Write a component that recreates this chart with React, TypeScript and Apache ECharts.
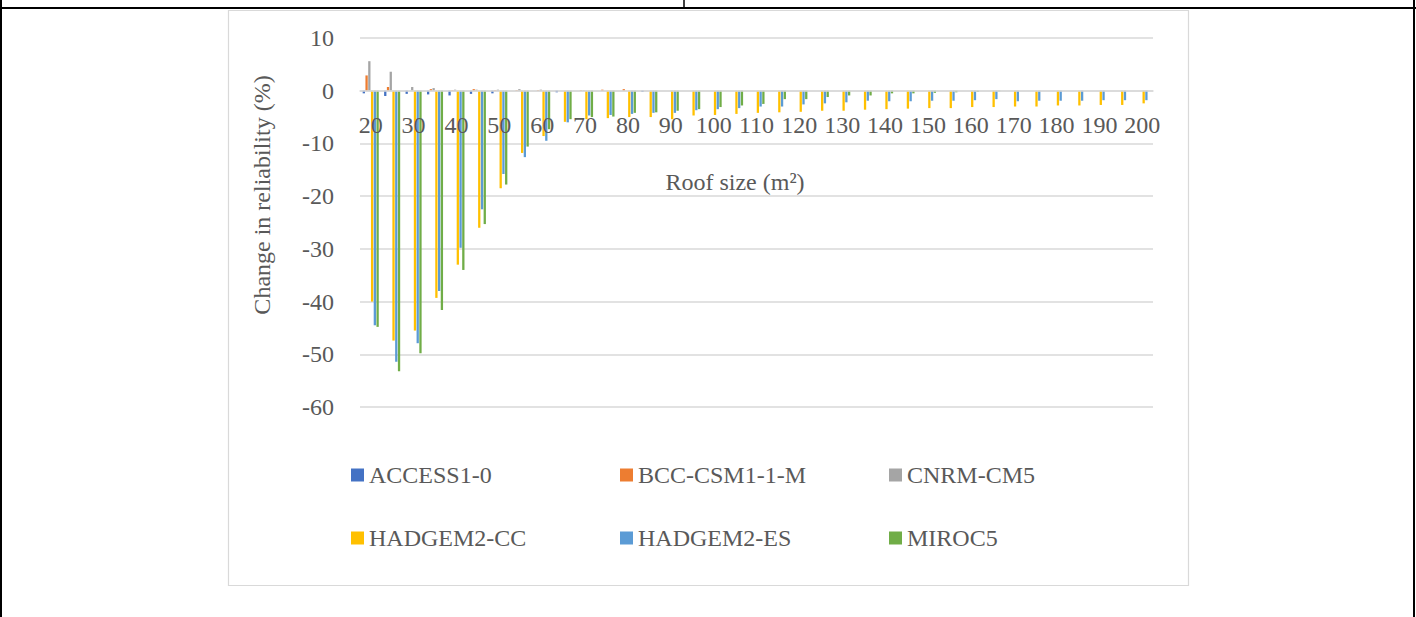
import React, { useEffect, useRef } from "react";
import * as echarts from "echarts";

const categories: string[] = [
  "20", "25", "30", "35", "40", "45", "50", "55", "60", "65", "70", "75", "80",
  "85", "90", "95", "100", "105", "110", "115", "120", "125", "130", "135", "140",
  "145", "150", "155", "160", "165", "170", "175", "180", "185", "190", "195", "200",
];

const seriesNames: string[] = ["ACCESS1-0", "BCC-CSM1-1-M", "CNRM-CM5", "HADGEM2-CC", "HADGEM2-ES", "MIROC5"];
const seriesColors: string[] = ["#4472C4", "#ED7D31", "#A5A5A5", "#FFC000", "#5B9BD5", "#70AD47"];

const access10: number[] = [
  -0.5, -1.0, -0.6, -0.7, -0.9, -0.6, -0.5, 0, 0, -0.3, 0, 0, 0,
  -0.2, 0, 0, 0, 0, 0, 0, 0, 0, 0, 0, 0,
  0, 0, 0, 0, 0, 0, 0, 0, 0, 0, 0, 0,
];
const bccCsm: number[] = [
  2.9, 0.7, 0, 0.3, 0.1, 0.3, 0.1, 0.1, 0.1, 0, 0.1, 0.2, 0.3,
  0, 0, 0, 0, 0, 0, 0, 0, 0, 0, 0, 0,
  0, 0, 0, 0, 0, 0, 0, 0, 0, 0, 0, 0,
];
const cnrmCm5: number[] = [
  5.6, 3.6, 0.7, 0.5, 0.2, 0.2, 0.2, 0.3, 0.2, 0, 0.1, 0, 0,
  0, 0, 0, 0, 0, 0, 0, 0, 0, 0, 0, 0,
  0, 0, 0, 0, 0, 0, 0, 0, 0, 0, 0, 0,
];
const hadgem2Cc: number[] = [
  -40, -47.4, -45.5, -39.3, -33, -26, -18.5, -11.8, -8.6, -5.9, -5.4, -5.2, -5.0,
  -5.0, -5.4, -4.7, -4.6, -4.4, -4.2, -4.1, -4.0, -3.8, -3.8, -3.6, -3.5,
  -3.4, -3.3, -3.3, -3.1, -3.1, -3.0, -3.0, -2.8, -2.8, -2.7, -2.7, -2.4,
];
const hadgem2Es: number[] = [
  -44.5, -51.4, -47.9, -38, -29.8, -22.5, -15.8, -12.6, -9.5, -6.0, -4.7, -4.6, -4.4,
  -4.2, -4.2, -3.7, -3.5, -3.3, -3.0, -3.0, -2.6, -2.4, -2.2, -1.9, -2.0,
  -2.0, -1.9, -1.9, -1.8, -1.6, -2.0, -1.9, -1.9, -1.9, -1.8, -1.8, -1.8,
];
const miroc5: number[] = [
  -44.8, -53.2, -49.8, -41.6, -34, -25.3, -17.8, -10.6, -7.3, -5.4, -5.0, -4.9, -4.2,
  -4.1, -3.8, -3.5, -3.1, -2.8, -2.5, -1.6, -1.6, -1.2, -0.9, -0.9, -0.5,
  -0.5, -0.4, -0.3, -0.2, -0.1, 0, 0, 0, 0, 0, 0, 0,
];

const allSeries: number[][] = [access10, bccCsm, cnrmCm5, hadgem2Cc, hadgem2Es, miroc5];

const yTicks = { min: -60, max: 10, interval: 10 };
const xTitle = "Roof size (m²)";
const yTitle = "Change in reliability (%)";

const FONT = "'Liberation Serif', 'Times New Roman', serif";
const TEXT = "#595959";
const GRID = "#d9d9d9";

const GRID_TOP = 38;
const GRID_BOTTOM = 210;
const PLOT_H = 617 - GRID_TOP - GRID_BOTTOM;

const legendPos: [number, number][] = [
  [351, 463], [620, 463], [889, 463],
  [351, 526], [620, 526], [889, 526],
];

export default function App() {
  const ref = useRef<HTMLDivElement>(null);

  useEffect(() => {
    if (!ref.current) return;
    const chart = echarts.init(ref.current, undefined, { renderer: "svg" });

    // distance from the bottom of the plot up to the zero line, via the value range
    const zeroOffset = (PLOT_H * (0 - yTicks.min)) / (yTicks.max - yTicks.min);

    const option: any = {
      animation: false,
      backgroundColor: "#ffffff",
      grid: { left: 360, right: 263, top: GRID_TOP, bottom: GRID_BOTTOM, containLabel: false },
      xAxis: {
        type: "category",
        data: categories,
        position: "bottom",
        offset: -zeroOffset,
        axisLine: { onZero: false, lineStyle: { color: GRID, width: 1.5 } },
        axisTick: { show: false },
        axisLabel: {
          interval: 1,
          fontSize: 24,
          color: TEXT,
          fontFamily: FONT,
          margin: 22,
        },
        splitLine: { show: false },
        z: 3,
      },
      yAxis: {
        type: "value",
        min: yTicks.min,
        max: yTicks.max,
        interval: yTicks.interval,
        axisLine: { show: false },
        axisTick: { show: false },
        axisLabel: { fontSize: 24, color: TEXT, fontFamily: FONT, margin: 26 },
        splitLine: { lineStyle: { color: GRID, width: 1.5 } },
      },
      legend: seriesNames.map((n, i) => ({
        data: [n],
        left: legendPos[i][0],
        top: legendPos[i][1],
        padding: 0,
        itemWidth: 13,
        itemHeight: 13,
        icon: "rect",
        selectedMode: false,
        textStyle: { fontSize: 24, color: TEXT, fontFamily: FONT },
      })),
      series: seriesNames.map((n, i) => ({
        name: n,
        type: "bar",
        data: allSeries[i],
        barGap: "20%",
        barCategoryGap: "25%",
        itemStyle: { color: seriesColors[i] },
      })),
      graphic: [
        {
          type: "rect",
          shape: { x: 228.5, y: 10.5, width: 960, height: 575 },
          style: { fill: "none", stroke: GRID, lineWidth: 1.2 },
          silent: true,
        },
        {
          type: "line",
          shape: { x1: 0, y1: 8, x2: 1416, y2: 8 },
          style: { stroke: "#000", lineWidth: 2 },
        },
        {
          type: "line",
          shape: { x1: 684, y1: 0, x2: 684, y2: 8 },
          style: { stroke: "#000", lineWidth: 1.5 },
        },
        {
          type: "line",
          shape: { x1: 1, y1: 0, x2: 1, y2: 617 },
          style: { stroke: "#000", lineWidth: 2 },
        },
        {
          type: "line",
          shape: { x1: 1414, y1: 0, x2: 1414, y2: 617 },
          style: { stroke: "#000", lineWidth: 2 },
        },
        {
          type: "text",
          x: 735,
          y: 182,
          style: {
            text: xTitle,
            fontSize: 24,
            fontFamily: FONT,
            fill: TEXT,
            align: "center",
            verticalAlign: "middle",
          },
        },
        {
          type: "text",
          x: 262,
          y: 195,
          rotation: Math.PI / 2,
          style: {
            text: yTitle,
            fontSize: 24,
            fontFamily: FONT,
            fill: TEXT,
            align: "center",
            verticalAlign: "middle",
          },
        },
      ],
    };

    chart.setOption(option);
    return () => chart.dispose();
  }, []);

  return (
    <div
      ref={ref}
      style={{ position: "absolute", left: 0, top: 0, width: 1416, height: 617, background: "#fff" }}
    />
  );
}
